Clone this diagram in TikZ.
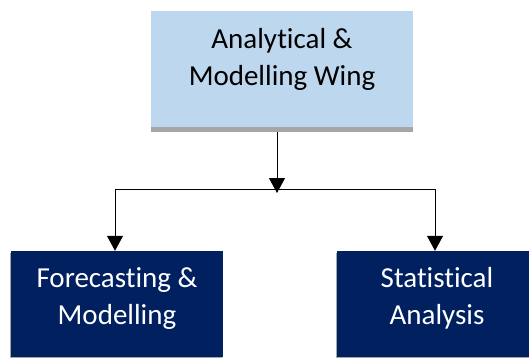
\documentclass[tikz,border=0pt]{standalone}
\usepackage{fontspec}
\setmainfont{Carlito}[Ligatures=NoCommon]
\usepackage{xcolor}
\usetikzlibrary{arrows.meta}
\usetikzlibrary{calc}
\usetikzlibrary{shadows}
\definecolor{wingblue}{HTML}{BDD7EE}
\definecolor{unitnavy}{HTML}{002060}
\definecolor{shadegray}{HTML}{A6A6A6}
\tikzstyle{boxtext}=[font=\fontsize{29pt}{36.5pt}\selectfont,align=center,inner sep=0pt]
\tikzstyle{wing}=[boxtext,fill=wingblue,text=black,minimum width=262pt,minimum height=116pt,
  general shadow={fill=shadegray,shadow yshift=-5pt}]
\tikzstyle{unit}=[boxtext,fill=unitnavy,text=white,minimum width=212pt,minimum height=106pt,
  general shadow={fill=shadegray,shadow xshift=-1.5pt,shadow yshift=-2pt}]
\tikzstyle{link}=[line width=1pt,black]
\tikzstyle{arr}=[link,-{Triangle[length=15pt,width=16pt]}]

\begin{document}
\begin{tikzpicture}[x=1pt,y=-1pt]
	\useasboundingbox (0,0) rectangle (529,358);
	\node[wing,text depth=24pt] (top)  at (282,69)  {Analytical \&\\Modelling Wing};
	\node[unit,text depth=16pt] (fore) at (117,304) {Forecasting \&\\Modelling};
	\node[unit,text depth=16pt,minimum width=200pt] (stat) at (437,304) {Statistical\\Analysis};
	\coordinate (bus) at (277,189);
	\draw[arr] ([yshift=-5pt]top.south -| bus) -- ([yshift=-4pt]bus);
	\draw[arr] (bus) -| ([xshift=-2pt]fore.north);
	\draw[arr] (bus) -| ([xshift=-2pt]stat.north);
\end{tikzpicture}
\end{document}
